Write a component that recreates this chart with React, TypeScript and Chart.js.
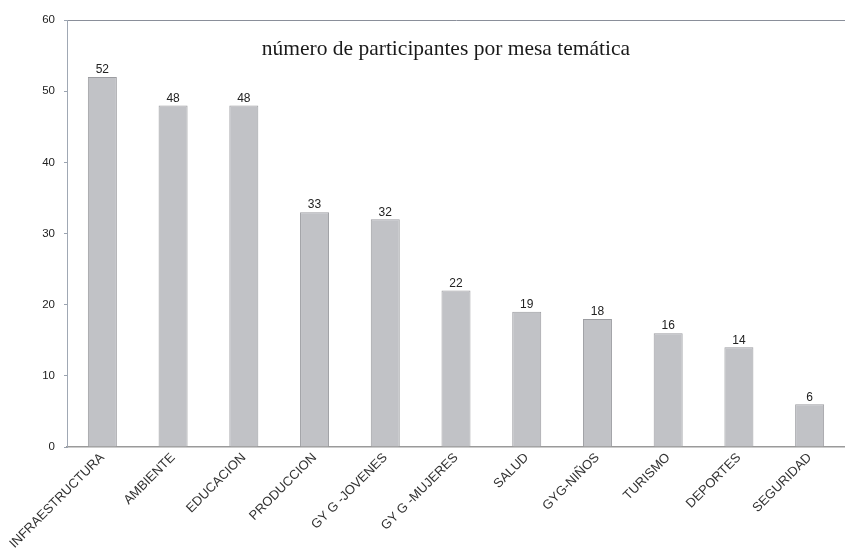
import React, { useEffect, useRef } from "react";
import { Chart, registerables } from "chart.js";

Chart.register(...registerables);

const categories = [
  "INFRAESTRUCTURA",
  "AMBIENTE",
  "EDUCACION",
  "PRODUCCION",
  "GY G -JOVENES",
  "GY G -MUJERES",
  "SALUD",
  "GYG-NIÑOS",
  "TURISMO",
  "DEPORTES",
  "SEGURIDAD",
];
const participants = [52, 48, 48, 33, 32, 22, 19, 18, 16, 14, 6];
const chartTitle = "número de participantes por mesa temática";

const barLabels = {
  id: "barLabels",
  afterDatasetsDraw(chart: any) {
    const ctx = chart.ctx;
    const meta = chart.getDatasetMeta(0);
    ctx.save();
    ctx.font = "12px 'Liberation Sans', Arial, sans-serif";
    ctx.fillStyle = "#222";
    ctx.textAlign = "center";
    ctx.textBaseline = "bottom";
    meta.data.forEach((el: any, i: number) => {
      ctx.fillText(String(participants[i]), el.x, el.y - 1);
    });
    ctx.restore();
  },
};

const innerTitle = {
  id: "innerTitle",
  afterDraw(chart: any) {
    const { ctx, chartArea } = chart;
    ctx.save();
    ctx.font = "21.5px 'Liberation Serif', 'DejaVu Serif', serif";
    ctx.fillStyle = "#1a1a1a";
    ctx.textAlign = "center";
    ctx.textBaseline = "middle";
    ctx.fillText(chartTitle, chartArea.left + chartArea.width * 0.487, chartArea.top + 29);
    ctx.restore();
  },
};

export default function App() {
  const ref = useRef<HTMLCanvasElement>(null);
  useEffect(() => {
    if (!ref.current) return;
    const chart = new Chart(ref.current, {
      type: "bar",
      data: {
        labels: categories,
        datasets: [
          {
            data: participants,
            backgroundColor: "#c1c2c6",
            borderColor: "#9c9da1",
            borderWidth: 1,
            categoryPercentage: 1,
            barPercentage: 0.41,
          },
        ],
      },
      options: {
        animation: false,
        responsive: false,
        maintainAspectRatio: false,
        layout: { padding: { top: 20, right: 0, left: 0, bottom: 0 } },
        plugins: {
          legend: { display: false },
          tooltip: { enabled: false },
          title: { display: false },
        },
        scales: {
          x: {
            grid: { display: false, drawTicks: false },
            border: { color: "#9a9a9a", width: 1.5 },
            ticks: {
              autoSkip: false,
              maxRotation: 45,
              minRotation: 45,
              color: "#333",
              font: { family: "'Liberation Sans', Arial, sans-serif", size: 13 },
              padding: 3,
            },
            afterFit(scale: any) {
              scale.height = 101;
            },
          },
          y: {
            min: 0,
            max: 60,
            ticks: {
              stepSize: 10,
              color: "#222",
              font: { family: "'Liberation Sans', Arial, sans-serif", size: 11.5 },
              padding: 9,
            },
            grid: {
              drawOnChartArea: true,
              tickLength: 3,
              color: (c: any) => (c.tick && c.tick.value === 60 ? "#8a8f9a" : "rgba(0,0,0,0)"),
              tickColor: "#9aa3b0",
            },
            border: { color: "#a0a8b4", width: 1 },
            afterFit(scale: any) {
              scale.width = 67;
            },
          },
        },
      },
      plugins: [barLabels, innerTitle],
    });
    return () => chart.destroy();
  }, []);
  return (
    <div style={{ position: "fixed", left: 0, top: 0, width: 845, height: 548, background: "#fff" }}>
      <canvas ref={ref} width={845} height={548} style={{ width: 845, height: 548 }} />
    </div>
  );
}
